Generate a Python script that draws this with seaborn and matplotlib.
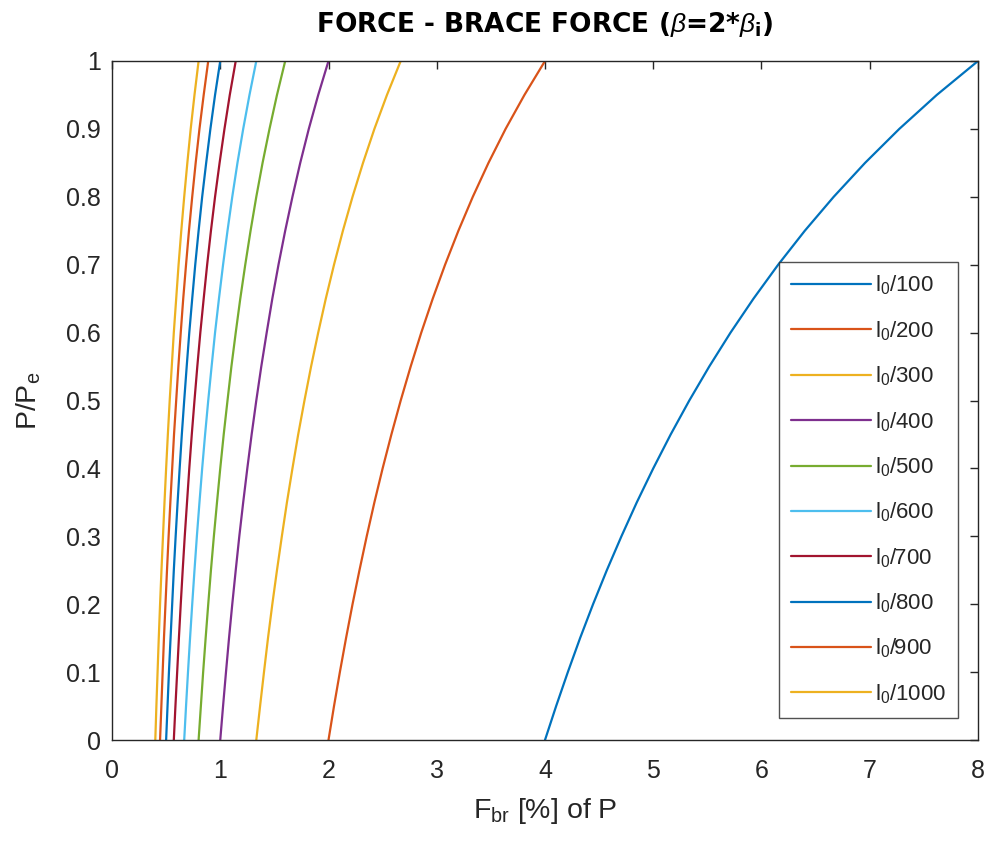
import numpy as np
import pandas as pd
import matplotlib
matplotlib.use("Agg")
import matplotlib.pyplot as plt
import seaborn as sns

# P/Pe levels (y values)
p_ratio = [0.00, 0.05, 0.10, 0.15, 0.20, 0.25, 0.30, 0.35, 0.40, 0.45, 0.50,
           0.55, 0.60, 0.65, 0.70, 0.75, 0.80, 0.85, 0.90, 0.95, 1.00]

# Brace force [% of P] for each initial imperfection l0/n
f_100 = [4.000, 4.103, 4.211, 4.324, 4.444, 4.571, 4.706, 4.848, 5.000, 5.161, 5.333,
         5.517, 5.714, 5.926, 6.154, 6.400, 6.667, 6.957, 7.273, 7.619, 8.000]
f_200 = [2.000, 2.051, 2.105, 2.162, 2.222, 2.286, 2.353, 2.424, 2.500, 2.581, 2.667,
         2.759, 2.857, 2.963, 3.077, 3.200, 3.333, 3.478, 3.636, 3.810, 4.000]
f_300 = [1.333, 1.368, 1.404, 1.441, 1.481, 1.524, 1.569, 1.616, 1.667, 1.720, 1.778,
         1.839, 1.905, 1.975, 2.051, 2.133, 2.222, 2.319, 2.424, 2.540, 2.667]
f_400 = [1.000, 1.026, 1.053, 1.081, 1.111, 1.143, 1.176, 1.212, 1.250, 1.290, 1.333,
         1.379, 1.429, 1.481, 1.538, 1.600, 1.667, 1.739, 1.818, 1.905, 2.000]
f_500 = [0.800, 0.821, 0.842, 0.865, 0.889, 0.914, 0.941, 0.970, 1.000, 1.032, 1.067,
         1.103, 1.143, 1.185, 1.231, 1.280, 1.333, 1.391, 1.455, 1.524, 1.600]
f_600 = [0.667, 0.684, 0.702, 0.721, 0.741, 0.762, 0.784, 0.808, 0.833, 0.860, 0.889,
         0.920, 0.952, 0.988, 1.026, 1.067, 1.111, 1.159, 1.212, 1.270, 1.333]
f_700 = [0.571, 0.586, 0.602, 0.618, 0.635, 0.653, 0.672, 0.693, 0.714, 0.737, 0.762,
         0.788, 0.816, 0.847, 0.879, 0.914, 0.952, 0.994, 1.039, 1.088, 1.143]
f_800 = [0.500, 0.513, 0.526, 0.541, 0.556, 0.571, 0.588, 0.606, 0.625, 0.645, 0.667,
         0.690, 0.714, 0.741, 0.769, 0.800, 0.833, 0.870, 0.909, 0.952, 1.000]
f_900 = [0.444, 0.456, 0.468, 0.480, 0.494, 0.508, 0.523, 0.539, 0.556, 0.573, 0.593,
         0.613, 0.635, 0.658, 0.684, 0.711, 0.741, 0.773, 0.808, 0.847, 0.889]
f_1000 = [0.400, 0.410, 0.421, 0.432, 0.444, 0.457, 0.471, 0.485, 0.500, 0.516, 0.533,
          0.552, 0.571, 0.593, 0.615, 0.640, 0.667, 0.696, 0.727, 0.762, 0.800]

series_labels = [r"l$_0$/100", r"l$_0$/200", r"l$_0$/300", r"l$_0$/400", r"l$_0$/500",
                 r"l$_0$/600", r"l$_0$/700", r"l$_0$/800", r"l$_0$/900", r"l$_0$/1000"]
series_values = [f_100, f_200, f_300, f_400, f_500, f_600, f_700, f_800, f_900, f_1000]

x_ticks = [0, 1, 2, 3, 4, 5, 6, 7, 8]
y_ticks = [0.0, 0.1, 0.2, 0.3, 0.4, 0.5, 0.6, 0.7, 0.8, 0.9, 1.0]
y_tick_labels = ["0", "0.1", "0.2", "0.3", "0.4", "0.5", "0.6", "0.7", "0.8", "0.9", "1"]

colors = ["#0072BD", "#D95319", "#EDB120", "#7E2F8E", "#77AC30", "#4DBEEE",
          "#A2142F", "#0072BD", "#D95319", "#EDB120"]

rows = []
for lab, vals in zip(series_labels, series_values):
    for x, y in zip(vals, p_ratio):
        rows.append({"F": x, "P": y, "series": lab})
df = pd.DataFrame(rows)

sns.set_style("white")
plt.rcParams["font.family"] = ["Liberation Sans", "DejaVu Sans"]
plt.rcParams["mathtext.fontset"] = "custom"
plt.rcParams["mathtext.rm"] = "Liberation Sans"
plt.rcParams["mathtext.it"] = "Liberation Sans:italic"
plt.rcParams["mathtext.bf"] = "Liberation Sans:bold"
plt.rcParams["mathtext.default"] = "regular"

fig = plt.figure(figsize=(9.9, 8.41), dpi=100)
ax = fig.add_axes([112 / 990, 1 - 740 / 841, (978 - 112) / 990, (740 - 61) / 841])

sns.lineplot(data=df, x="F", y="P", hue="series", hue_order=series_labels,
             palette=colors, sort=False, estimator=None, linewidth=1.6, ax=ax)

ax.set_xlim(0, 8)
ax.set_ylim(0, 1)
ax.set_xticks(x_ticks)
ax.set_yticks(y_ticks)
ax.set_yticklabels(y_tick_labels)

tc = "#262626"
for s in ax.spines.values():
    s.set_visible(True)
    s.set_color(tc)
    s.set_linewidth(1.0)
ax.tick_params(direction="in", length=6, width=1.0, colors=tc, labelsize=18,
               top=True, right=True)
ax.tick_params(axis="x", pad=14)
ax.tick_params(axis="y", pad=8)

ax.set_xlabel(r"F$_{br}$ [%] of P", fontsize=20.5, color=tc)
ax.xaxis.set_label_coords(0.5, -0.082)
ax.set_ylabel(r"P/P$_e$", fontsize=20.5, color=tc)
ax.yaxis.set_label_coords(-0.080, 0.5)

ax.set_title(r"FORCE - BRACE FORCE ($\mathit{\beta}$=2*$\mathit{\beta}_{i}$)",
             fontsize=19, fontweight="bold", color="black",
             family=["DejaVu Sans"], y=1.0427, pad=0)

leg = ax.legend(loc="lower right", bbox_to_anchor=(0.977, 0.0324), fontsize=16,
                frameon=True, fancybox=False, handlelength=3.6, labelspacing=0.98,
                borderpad=0.55, handletextpad=0.15, borderaxespad=0)
leg.get_frame().set_edgecolor(tc)
leg.get_frame().set_linewidth(1.0)
for line in leg.get_lines():
    line.set_linewidth(1.6)

fig.savefig("out.png", dpi=100, facecolor="white")
